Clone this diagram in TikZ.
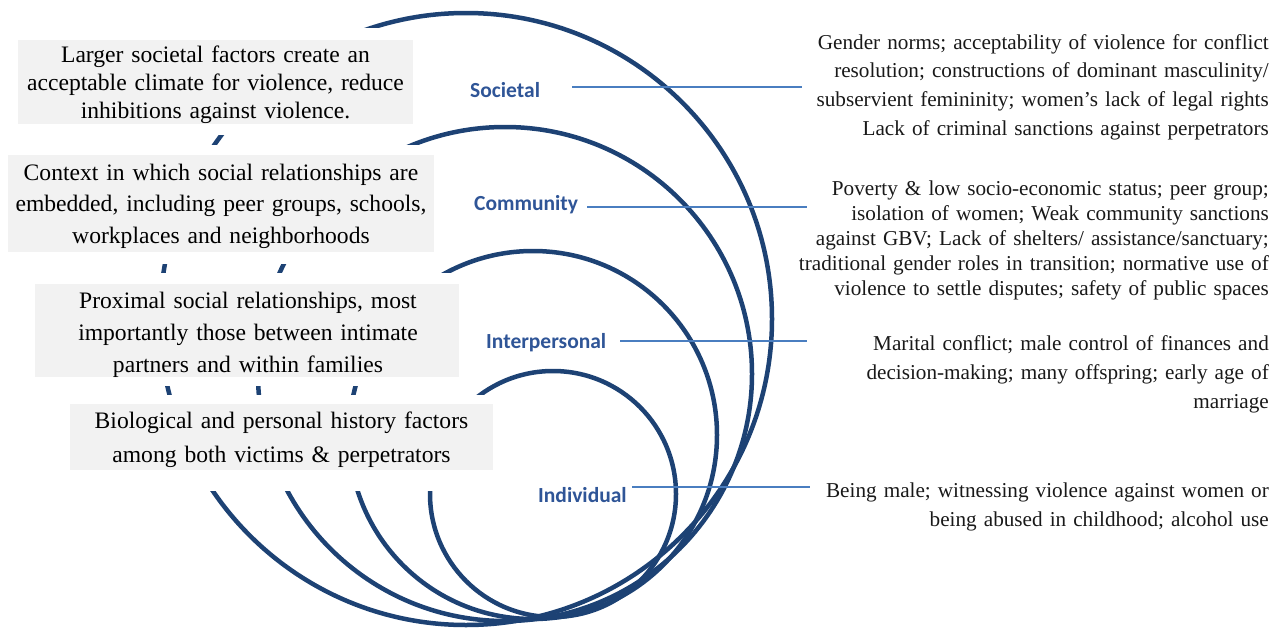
\documentclass[tikz,border=0pt]{standalone}
\usepackage{fontspec}
\setmainfont{Liberation Serif}
\newfontfamily\labelfont{Carlito}
\definecolor{ring}{HTML}{1D4274}
\definecolor{levelblue}{HTML}{2F5597}
\definecolor{leaderblue}{HTML}{4A7EC0}
\definecolor{boxgrey}{HTML}{F2F2F2}
\tikzset{
  ringline/.style={draw=ring, line width=4.5pt},
  cover/.style={fill=white},
  greybox/.style={fill=boxgrey},
  boxtext/.style={font=\fontsize{23.6}{#1}\selectfont, align=center, inner sep=0pt, anchor=base, text width=430pt},
  risk/.style={font=\fontsize{21.2}{#1}\selectfont, align=right, inner sep=0pt, anchor=base east, text width=600pt, text=black!90},
  level/.style={font=\labelfont\bfseries\fontsize{21.5}{24}\selectfont, text=levelblue, inner sep=0pt, anchor=base west},
  leader/.style={draw=leaderblue, line width=1.4pt}
}
\begin{document}
\begin{tikzpicture}[x=1pt, y=-1pt]
\useasboundingbox (0,0) rectangle (1283,629);

% nested rings of the ecological model
\draw[ringline] (466,319) circle[radius=306];
\draw[ringline] (505,374) circle[radius=247];
\draw[ringline] (533,435) circle[radius=184];
\draw[ringline] (553,494) circle[radius=123];

% white margins around the description boxes
\fill[cover] (7,28) rectangle (424,135);
\fill[cover] (0,145) rectangle (445,264);
\fill[cover] (24,273) rectangle (470,386);
\fill[cover] (59,395) rectangle (504,491);

% description boxes
\fill[greybox] (18,40) rectangle (413,124);
\fill[greybox] (8,155) rectangle (434,252);
\fill[greybox] (35,284) rectangle (459,377);
\fill[greybox] (70,404) rectangle (493,470);

\node[boxtext=28] (d1) at (215.5,62) {Larger societal factors create an\\acceptable climate for violence, reduce\\inhibitions against violence.};
\node[boxtext=31.5] (d2) at (221,180) {Context in which social relationships are\\embedded, including peer groups, schools,\\workplaces and neighborhoods};
\node[boxtext=32] (d3) at (248,308) {Proximal social relationships, most\\importantly those between intimate\\partners and within families};
\node[boxtext=34] (d4) at (281.5,428) {Biological and personal history factors\\among both victims \& perpetrators};

% level labels
\node[level] (soc) at (470,97) {Societal};
\node[level] (com) at (474,210) {Community};
\node[level] (int) at (486,348) {Interpersonal};
\node[level] (ind) at (538,502) {Individual};

% risk factors
\node[risk=28.7] (r1) at (1269,49) {Gender norms; acceptability of violence for conflict\\resolution; constructions of dominant masculinity/\\subservient femininity; women’s lack of legal rights\\Lack of criminal sanctions against perpetrators};
\node[risk=25.2] (r2) at (1269,195) {Poverty \& low socio-economic status; peer group;\\isolation of women; Weak community sanctions\\against GBV; Lack of shelters/ assistance/sanctuary;\\traditional gender roles in transition; normative use of\\violence to settle disputes; safety of public spaces};
\node[risk=29] (r3) at (1269,350) {Marital conflict; male control of finances and\\decision-making; many offspring; early age of\\marriage};
\node[risk=29] (r4) at (1269,497) {Being male; witnessing violence against women or\\being abused in childhood; alcohol use};

% leader lines
\coordinate (socA) at (572,87);  \coordinate (socB) at (802,87);
\coordinate (comA) at (587,207); \coordinate (comB) at (807,207);
\coordinate (intA) at (620,341); \coordinate (intB) at (807,341);
\coordinate (indA) at (632,487); \coordinate (indB) at (810,487);
\draw[leader] (socA) -- (socB);
\draw[leader] (comA) -- (comB);
\draw[leader] (intA) -- (intB);
\draw[leader] (indA) -- (indB);
\end{tikzpicture}
\end{document}
